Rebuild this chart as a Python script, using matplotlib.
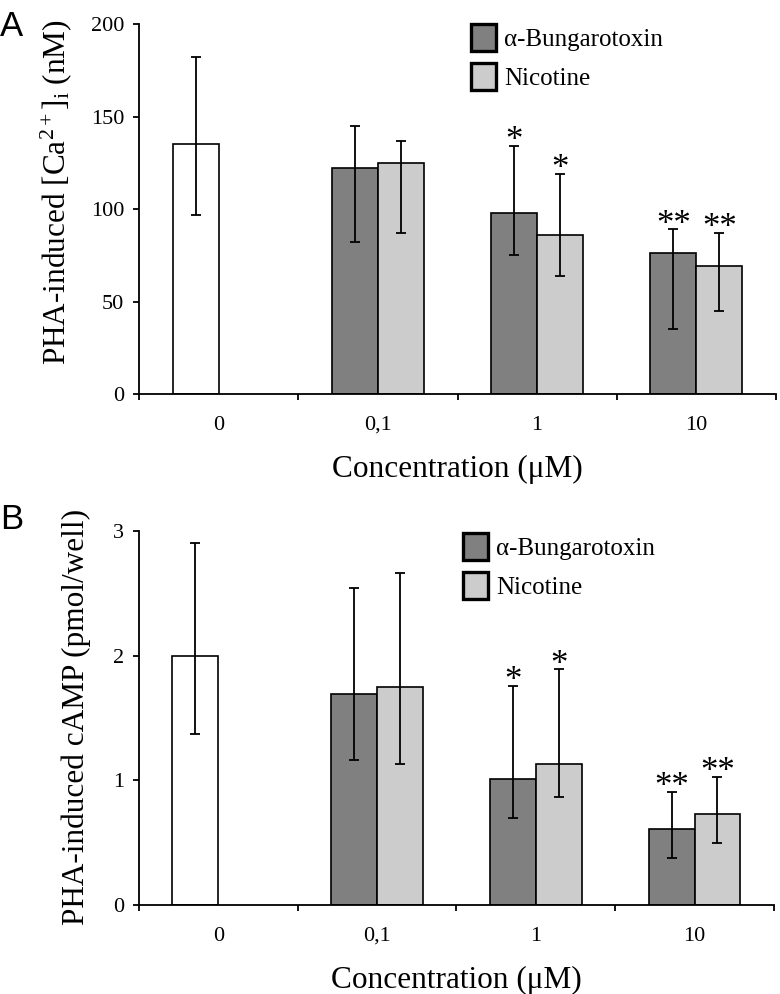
import matplotlib
matplotlib.use("Agg")
import matplotlib.pyplot as plt
from matplotlib.patches import Patch
import numpy as np

plt.rcParams['font.family'] = ['Liberation Serif', 'DejaVu Serif']
plt.rcParams['mathtext.fontset'] = 'custom'
plt.rcParams['mathtext.rm'] = 'Liberation Serif'
plt.rcParams['mathtext.it'] = 'Liberation Serif:italic'

# ---------------- data ----------------
categories = ['0', '0,1', '1', '10']
series_names = ['\u03b1-Bungarotoxin', 'Nicotine']

# Panel A: [Ca2+]i (nM)
ca_control = 135
ca_control_lo = 38
ca_control_hi = 47
ca_bung = [122, 98, 76]
ca_bung_lo = [40, 23, 41]
ca_bung_hi = [23, 36, 13]
ca_nic = [125, 86, 69]
ca_nic_lo = [38, 22, 24]
ca_nic_hi = [12, 33, 18]
ca_bung_sig = ['', '*', '**']
ca_nic_sig = ['', '*', '**']
ca_yticks = [0, 50, 100, 150, 200]

# Panel B: cAMP (pmol/well)
camp_control = 2.0
camp_control_lo = 0.63
camp_control_hi = 0.90
camp_bung = [1.69, 1.01, 0.61]
camp_bung_lo = [0.53, 0.31, 0.23]
camp_bung_hi = [0.85, 0.75, 0.30]
camp_nic = [1.75, 1.135, 0.73]
camp_nic_lo = [0.62, 0.265, 0.23]
camp_nic_hi = [0.91, 0.755, 0.30]
camp_bung_sig = ['', '*', '**']
camp_nic_sig = ['', '*', '**']
camp_yticks = [0, 1, 2, 3]

# ---------------- style ----------------
DARK = '#808080'
LIGHT = '#cccccc'
WHITE = '#ffffff'
BW = 0.289
OFF = BW / 2

fig = plt.figure(figsize=(7.8, 9.94), dpi=100)


def stars(ax, xpos, tops, sigs):
    for xi, top, s in zip(xpos, tops, sigs):
        if s:
            ax.annotate(s, (xi, top), xytext=(0, -3), textcoords='offset points',
                        ha='center', va='baseline', fontsize=25)


def panel(rect, control, clo, chi, bung, blo, bhi, nic, nlo, nhi, bsig, nsig,
          yticks, ylabel, ylab_xy, xlab_y, legend_xy, letter, letter_xy):
    ax = fig.add_axes(rect)
    x = np.arange(len(categories))
    ekw = dict(ecolor='black', elinewidth=1.3, capsize=3.7, capthick=1.3)
    # control bar
    ax.bar(x[0] - OFF, control, BW, color=WHITE, edgecolor='black', linewidth=1.2, zorder=2)
    ax.errorbar(x[0] - OFF, control, yerr=[[clo], [chi]], fmt='none', zorder=3, **ekw)
    # treatments
    xs = x[1:]
    bung = np.asarray(bung)
    nic = np.asarray(nic)
    ax.bar(xs - OFF, bung, BW, color=DARK, edgecolor='black', linewidth=1.2, zorder=2)
    ax.bar(xs + OFF, nic, BW, color=LIGHT, edgecolor='black', linewidth=1.2, zorder=2)
    ax.errorbar(xs - OFF, bung, yerr=[blo, bhi], fmt='none', zorder=3, **ekw)
    ax.errorbar(xs + OFF, nic, yerr=[nlo, nhi], fmt='none', zorder=3, **ekw)
    stars(ax, xs - OFF, bung + np.asarray(bhi), bsig)
    stars(ax, xs + OFF, nic + np.asarray(nhi), nsig)

    ax.set_xlim(-0.5, len(categories) - 0.5)
    ax.set_ylim(yticks[0], yticks[-1])
    ax.set_yticks(yticks)
    ax.set_yticklabels([str(t) for t in yticks])
    ax.set_xticks(x)
    ax.set_xticklabels(categories)
    ax.set_xticks(np.arange(-0.5, len(categories), 1.0), minor=True)
    ax.tick_params(axis='x', which='major', length=0, pad=15.5, labelsize=16)
    ax.tick_params(axis='x', which='minor', length=4.5, width=1.3, direction='out')
    ax.tick_params(axis='y', which='major', length=4.5, width=1.3, direction='out',
                   pad=6.3, labelsize=16)
    for sp in ['top', 'right']:
        ax.spines[sp].set_visible(False)
    for sp in ['left', 'bottom']:
        ax.spines[sp].set_linewidth(1.3)

    ax.set_xlabel('Concentration (\u03bcM)', fontsize=22.5)
    ax.xaxis.set_label_coords(0.5, xlab_y)
    ax.set_ylabel(ylabel, fontsize=22.5)
    ax.yaxis.set_label_coords(*ylab_xy)

    handles = [Patch(facecolor=DARK, edgecolor='black', linewidth=2.4),
               Patch(facecolor=LIGHT, edgecolor='black', linewidth=2.4)]
    ax.legend(handles, series_names, loc='upper left', bbox_to_anchor=legend_xy,
              frameon=False, fontsize=18, handlelength=1.0, handleheight=1.3,
              handletextpad=0.33, labelspacing=0.48, borderpad=0, borderaxespad=0)

    fig.text(letter_xy[0], letter_xy[1], letter, family=['Liberation Sans', 'DejaVu Sans'],
             fontsize=25, ha='left', va='top')
    return ax


panel([0.1782, 0.6036, 0.8167, 0.3722],
      ca_control, ca_control_lo, ca_control_hi,
      ca_bung, ca_bung_lo, ca_bung_hi, ca_nic, ca_nic_lo, ca_nic_hi,
      ca_bung_sig, ca_nic_sig, ca_yticks,
      'PHA-induced [Ca$^{2+}$]$_{\\mathrm{i}}$ (nM)', (-0.102, 0.546), -0.165,
      (0.521, 1.001), 'A', (0.0, 0.990))

panel([0.1782, 0.0895, 0.814, 0.3763],
      camp_control, camp_control_lo, camp_control_hi,
      camp_bung, camp_bung_lo, camp_bung_hi, camp_nic, camp_nic_lo, camp_nic_hi,
      camp_bung_sig, camp_nic_sig, camp_yticks,
      'PHA-induced cAMP (pmol/well)', (-0.0756, 0.504), -0.162,
      (0.510, 0.995), 'B', (0.0, 0.494))

fig.savefig('out.png', dpi=100)
